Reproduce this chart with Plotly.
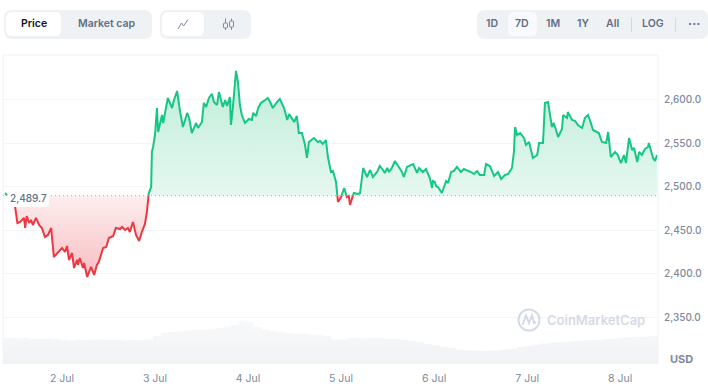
import datetime as dt
import plotly.graph_objects as go

hours = [-14.7,-13.7,-12.9,-12.1,-11.5,-10.8,-9.8,-9.5,-9.1,-8.5,-8.0,-7.5,-6.7,-5.9,-5.2,-4.4,-3.6,-2.8,-2.1,-1.0,
0,.8,1.3,1.8,2.6,3.1,3.9,4.1,4.6,5.4,5.7,6.5,7.0,7.5,8.3,9.0,9.5,10.6,11.4,12.1,13.2,13.9,15.0,15.5,16.3,17.0,17.5,18.3,19.1,19.9,20.6,21.4,21.9,22.4,23.0,23.2,23.5,
24.0,24.5,24.8,25.8,26.1,27.3,27.9,28.4,28.9,29.7,30.4,31.2,32.3,32.8,33.5,34.6,35.1,36.1,36.6,37.2,37.9,38.7,39.2,40.0,40.5,41.5,42.1,42.6,43.3,43.6,44.1,44.9,45.4,45.9,46.4,47.2,
48.2,49.0,49.3,50.1,50.6,51.3,52.1,53.1,53.7,54.4,55.5,56.2,57.3,58.1,58.6,59.9,60.6,61.1,61.9,62.7,63.2,63.7,65.0,66.0,66.6,67.3,68.1,68.6,69.4,69.9,70.7,71.2,
72.0,72.8,73.5,74.0,74.3,75.3,76.4,76.9,77.7,78.7,79.5,80.2,81.3,82.0,82.8,83.3,83.9,84.4,85.1,85.9,86.9,87.7,88.2,89.0,90.6,91.6,92.1,93.1,93.9,94.9,95.5,95.7,
96.2,96.5,97.0,97.5,98.0,99.1,99.6,100.4,101.1,101.9,102.9,103.7,104.5,105.5,106.3,107.1,107.8,108.9,109.4,110.4,111.5,112.5,113.3,114.3,115.1,115.8,116.1,116.6,116.9,117.4,118.2,119.2,119.7,
120.5,121.5,122.6,123.1,124.1,124.6,125.4,126.4,126.9,128.0,129.0,129.3,130.3,130.5,131.6,132.4,133.1,134.2,134.9,135.7,136.2,137.0,138.5,139.3,140.4,140.9,141.6,142.7,143.4,
144.2,145.0,145.5,146.3,147.1,147.6,148.4,148.9,149.6,150.4,151.2,151.4,152.5,153.0,153.5]

price = [2492.7,2488.1,2481.2,2476.7,2458.3,2459.5,2464.1,2452.6,2466.3,2458.3,2461.8,2456.0,2464.1,2456.0,2452.6,2442.3,2444.6,2452.6,2419.3,2425.1,
2429.6,2425.1,2432.0,2415.9,2423.9,2406.7,2415.9,2410.2,2418.2,2406.7,2412.4,2396.4,2402.1,2407.9,2398.7,2410.2,2413.6,2429.6,2430.8,2441.1,2443.4,2452.6,2451.4,2453.7,2450.3,2452.6,2448.0,2459.5,2444.6,2437.7,2448.0,2457.2,2470.9,2492.7,2499.6,2539.8,2545.5,
2559.3,2590.2,2562.7,2582.2,2573.0,2601.7,2594.8,2590.2,2599.4,2609.7,2587.9,2568.4,2584.5,2578.8,2561.5,2573.0,2567.3,2574.2,2596.0,2591.4,2601.7,2606.3,2597.1,2593.7,2608.6,2591.4,2599.4,2592.5,2602.8,2570.7,2591.4,2632.7,2620.0,2593.7,2582.2,2573.0,
2577.6,2576.5,2584.5,2581.0,2590.2,2596.0,2598.3,2601.7,2597.1,2590.2,2597.1,2600.5,2590.2,2576.5,2583.3,2574.2,2581.0,2561.5,2561.5,2547.8,2532.9,2551.2,2555.8,2551.2,2552.4,2549.0,2553.5,2534.0,2516.8,2518.0,2505.3,2482.4,
2488.1,2498.5,2488.1,2489.3,2479.0,2492.7,2491.6,2492.7,2521.4,2511.1,2519.1,2511.1,2516.8,2523.7,2519.1,2515.7,2521.4,2516.8,2521.4,2529.4,2522.6,2516.8,2511.1,2522.6,2526.0,2515.7,2521.4,2516.8,2520.3,2509.9,2498.5,2506.5,
2505.4,2500.8,2499.6,2496.2,2492.7,2506.5,2504.2,2516.8,2518.0,2522.6,2516.8,2520.3,2519.1,2516.8,2514.5,2518.0,2513.4,2513.4,2526.0,2523.7,2512.2,2516.8,2508.8,2513.4,2514.5,2520.3,2521.4,2539.8,2568.4,2559.3,2561.5,2555.8,2547.8,
2551.2,2532.9,2536.3,2550.1,2550.1,2596.0,2597.1,2568.4,2573.0,2557.0,2566.1,2582.2,2578.8,2585.6,2576.5,2575.3,2570.7,2567.3,2578.8,2582.2,2576.5,2565.0,2561.5,2551.2,2550.1,2562.7,2534.0,2539.8,2536.3,
2527.1,2536.3,2527.1,2555.8,2542.1,2544.4,2528.3,2539.8,2536.3,2543.2,2545.5,2550.1,2532.9,2529.4,2536.3]

volume = [12.9,13,12.8,13,12.6,12.5,12.7,12.4,12,11.8,12.1,12,12.3,12.2,12,12.1,11.8,12,11.9,12.2,
14,15.6,16,16.4,16.8,17,17.2,17.4,18,18.6,19.6,21.6,21,18.5,17.2,16.4,16,15.6,15.2,15,14.6,14.4,14,12.2,12.4,13,13,12.8,13,13,12.6,12.6,12,11.6,11,10,9.2,8.6,8,7.2,6.8,6.6,6.5,6.6,6.8,7.2,7.6,8.6,9,9.6,10.2,10.8,11,11.2,11.6,11.8,12,12,12.4,12.8,13.2,13.4,13.6,13.8,14,14.1,14.2]

y_ticks = [2350, 2400, 2450, 2500, 2550, 2600]
day_ticks = [2, 3, 4, 5, 6, 7, 8]
BASE = 2489.7
UNIT = "USD"

T0 = dt.datetime(2023, 7, 2)
W, H = 708, 384
L, R, T, B = 3, 658, 55, 364


def to_t(h):
    return T0 + dt.timedelta(hours=h)


def px(x):
    return (x - L) / (R - L)


def py(y):
    return (B - y) / (B - T)


# insert baseline crossings
xs, ys = [], []
for i, (h, p) in enumerate(zip(hours, price)):
    if i and (price[i - 1] - BASE) * (p - BASE) < 0:
        f = (BASE - price[i - 1]) / (p - price[i - 1])
        xs.append(hours[i - 1] + f * (h - hours[i - 1]))
        ys.append(BASE)
    xs.append(h)
    ys.append(p)
times = [to_t(h) for h in xs]

fig = go.Figure()
base_line = [BASE] * len(xs)
nol = dict(width=0)
fig.add_trace(go.Scatter(x=[to_t(-16.5 + 2 * i) for i in range(len(volume))], y=volume, yaxis="y2", mode="lines",
                         line=nol, fill="tozeroy", line_shape="hv",
                         fillgradient=dict(type="vertical", start=22, stop=0,
                                           colorscale=[[0, "#f8f9fa"], [1, "#f0f2f5"]]), hoverinfo="skip"))
fig.add_trace(go.Scatter(x=times, y=base_line, mode="lines", line=nol, hoverinfo="skip"))
fig.add_trace(go.Scatter(x=times, y=[max(v, BASE) for v in ys], mode="lines", line=nol, fill="tonexty",
                         fillgradient=dict(type="vertical", start=2633, stop=BASE,
                                           colorscale=[[0, "#bdecd8"], [1, "#e6f8f1"]]), hoverinfo="skip"))
fig.add_trace(go.Scatter(x=times, y=base_line, mode="lines", line=nol, hoverinfo="skip"))
fig.add_trace(go.Scatter(x=times, y=[min(v, BASE) for v in ys], mode="lines", line=nol, fill="tonexty",
                         fillgradient=dict(type="vertical", start=BASE, stop=2396,
                                           colorscale=[[0, "#fdeeef"], [1, "#f8bec2"]]), hoverinfo="skip"))
fig.add_trace(go.Scatter(x=times, y=[v if v >= BASE else None for v in ys], mode="lines",
                         line=dict(color="#16c784", width=2), connectgaps=False, hoverinfo="skip"))
fig.add_trace(go.Scatter(x=times, y=[v if v <= BASE else None for v in ys], mode="lines",
                         line=dict(color="#ea3943", width=2), connectgaps=False, hoverinfo="skip"))


def rrect(x0, y0, x1, y1, r, color):
    X0, X1, Y0, Y1 = px(x0), px(x1), py(y0), py(y1)
    rx, ry = r / (R - L), r / (B - T)
    d = (f"M {X0 + rx} {Y0} L {X1 - rx} {Y0} Q {X1} {Y0} {X1} {Y0 - ry} L {X1} {Y1 + ry} Q {X1} {Y1} {X1 - rx} {Y1} "
         f"L {X0 + rx} {Y1} Q {X0} {Y1} {X0} {Y1 + ry} L {X0} {Y0 - ry} Q {X0} {Y0} {X0 + rx} {Y0} Z")
    return dict(type="path", xref="paper", yref="paper", path=d, fillcolor=color, line=dict(width=0), layer="above")


def seg(x0, y0, x1, y1, color, w=1):
    return dict(type="line", xref="paper", yref="paper", x0=px(x0), x1=px(x1), y0=py(y0), y1=py(y1),
                line=dict(color=color, width=w), layer="above")


def poly(points, color, w=1):
    d = "M " + " L ".join(f"{px(a)} {py(b)}" for a, b in points)
    return dict(type="path", xref="paper", yref="paper", path=d, line=dict(color=color, width=w), layer="above")


def label(x, y, s, color="#616e85", size=10.5, weight=600, anchor="center"):
    return dict(xref="paper", yref="paper", x=px(x), y=py(y), text=s, showarrow=False, xanchor=anchor, yanchor="middle",
                font=dict(family="Inter", size=size, color=color, weight=weight))


chip = "#eff2f5"
shapes = [
    seg(L, T, R, T, "#eff2f5"), seg(L, T, L, B, "#eff2f5"), seg(R, T, R, B, "#eff2f5"),
    dict(type="line", xref="paper", yref="y", x0=0, x1=1, y0=BASE, y1=BASE, layer="above",
         line=dict(color="#a6b0c3", width=1, dash="1px,3px")),
    rrect(7, 193, 49, 207, 4, "#ffffff"),
    rrect(4, 10, 152, 39, 8, chip), rrect(6, 12, 61, 36, 6, "#ffffff"),
    rrect(160, 10, 251, 39, 8, chip), rrect(162, 12, 204, 36, 6, "#ffffff"),
    rrect(477, 10, 708, 39, 8, chip), rrect(508, 12, 537, 36, 6, "#f8fafd"),
    seg(631.5, 18, 631.5, 32, "#cfd6e4"), seg(675.5, 18, 675.5, 32, "#cfd6e4"),
    poly([(178, 29), (181.5, 23), (183.5, 26), (188, 19.5)], "#808a9d"),
    # candle icon
    seg(225.5, 18.5, 225.5, 30, "#808a9d"), seg(231.5, 18.5, 231.5, 30, "#808a9d"),
    dict(rrect(223.5, 23, 227.5, 28, 1, "#eff2f5"), line=dict(color="#808a9d", width=1)),
    dict(rrect(229.5, 21, 233.5, 27, 1, "#eff2f5"), line=dict(color="#808a9d", width=1)),
    # watermark logo
    dict(type="circle", xref="paper", yref="paper", x0=px(518.5), x1=px(539.5), y0=py(330.5), y1=py(309.5),
         line=dict(color="#d5dbe6", width=2), layer="above"),
    poly([(522.5, 325), (526, 315.5), (529, 323), (532, 315.5), (534, 323), (536, 322)], "#d5dbe6", 2),
]

annotations = [
    label(33.5, 24, "Price", "#0d1421"),
    label(107, 24, "Market cap"),
    label(492, 24, "1D"), label(522, 24, "7D"), label(553, 24, "1M"), label(583, 24, "1Y"),
    label(612, 24, "All"), label(653, 24, "LOG"), label(694, 23, "···", size=13),
    label(28.5, 198, f"{BASE:,.1f}", size=10, weight=500),
    label(596, 320, "CoinMarketCap", "#d5dbe6", size=13, weight=600),
    label(681, 359, UNIT, "#808a9d", size=11, weight=700),
]

fig.update_layout(
    width=W, height=H, autosize=False, showlegend=False,
    margin=dict(l=L, r=W - R, t=T, b=H - B, pad=0, autoexpand=False),
    paper_bgcolor="#ffffff", plot_bgcolor="#ffffff",
    font=dict(family="Inter", color="#808a9d"),
    shapes=shapes, annotations=annotations,
    xaxis=dict(range=[to_t(-15.22), to_t(153.77)], type="date", showgrid=False, zeroline=False, showline=False,
               tickmode="array", tickvals=[dt.datetime(2023, 7, d) for d in day_ticks],
               ticktext=[f"{d} Jul" for d in day_ticks], ticks="", tickfont=dict(size=10.5, color="#808a9d"),
               ticklabelstandoff=6, automargin=False),
    yaxis=dict(range=[2296.6, 2651.0], side="right", tickmode="array", tickvals=y_ticks, tickformat=",.1f",
               showgrid=True, gridcolor="#f3f4f6", gridwidth=1, zeroline=False, showline=False, ticks="",
               tickfont=dict(size=10, color="#808a9d", weight=500), ticklabelstandoff=5, automargin=False),
    yaxis2=dict(range=[0, 154.5], overlaying="y", side="right", visible=False),
)

fig.write_html("out.html", config={"displayModeBar": False},
               post_script="document.body.style.margin='0';document.body.style.overflow='hidden';")
